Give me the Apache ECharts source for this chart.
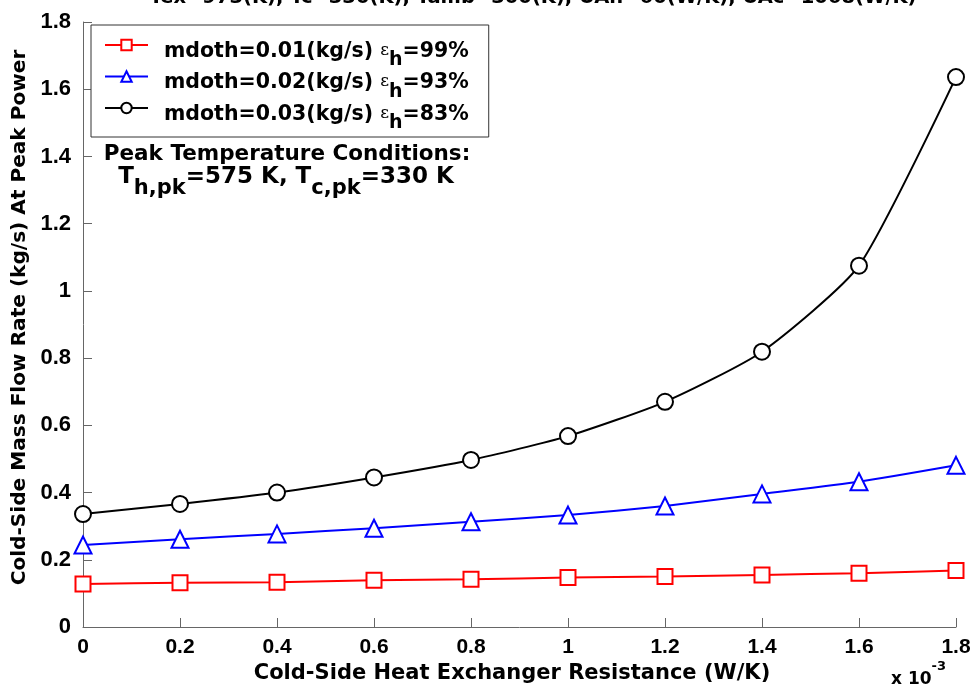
<!DOCTYPE html>
<html>
<head>
<meta charset="utf-8">
<script src="https://cdn.jsdelivr.net/npm/echarts@6/dist/echarts.min.js"></script>
<style>
  html, body { margin: 0; padding: 0; background: #fff; }
  #chart { width: 975px; height: 689px; }
</style>
</head>
<body>
<div id="chart"></div>
<script>
// Cold-side heat exchanger resistance (units of 1e-3 W/K)
const resistance = [0, 0.2, 0.4, 0.6, 0.8, 1.0, 1.2, 1.4, 1.6, 1.8];

// Cold-side mass flow rate at peak power (kg/s) for each hot-side flow rate
const flow001 = [0.128, 0.132, 0.133, 0.139, 0.142, 0.147, 0.150, 0.155, 0.160, 0.168];
const flow002 = [0.244, 0.261, 0.277, 0.294, 0.313, 0.333, 0.360, 0.396, 0.432, 0.481];
const flow003 = [0.336, 0.366, 0.400, 0.445, 0.497, 0.568, 0.670, 0.819, 1.075, 1.636];

const seriesNames = ['mdoth=0.01(kg/s)', 'mdoth=0.02(kg/s)', 'mdoth=0.03(kg/s)'];
const effectiveness = ['99%', '93%', '83%'];

const WIDE = '"DejaVu Sans", "Liberation Sans", Arial, sans-serif';
const TICK = '"Liberation Sans", Arial, Helvetica, sans-serif';

function pairs(xs, ys) { return xs.map((x, i) => [x, ys[i]]); }

const chart = echarts.init(document.getElementById('chart'), null, { renderer: 'canvas' });

function lineSeries(name, data, color, symbol, size) {
  return {
    name: name,
    type: 'line',
    data: data,
    smooth: 0.2,
    symbol: symbol,
    symbolSize: size,
    showAllSymbol: true,
    lineStyle: { color: color, width: 2 },
    itemStyle: { color: '#fff', borderColor: color, borderWidth: 2 },
    emphasis: { disabled: true },
    z: 3
  };
}

const tickLabel = v => String(+v.toFixed(1));

const option = {
  backgroundColor: '#fff',
  animation: false,
  grid: { left: 83, right: 19, top: 22, bottom: 61, containLabel: false },
  xAxis: {
    type: 'value',
    min: 0, max: 1.8, interval: 0.2,
    name: 'Cold-Side Heat Exchanger Resistance (W/K)',
    nameLocation: 'middle',
    nameGap: 36,
    nameTextStyle: { fontFamily: WIDE, fontWeight: 'bold', fontSize: 21, color: '#000', padding: [0, 15, 0, 0] },
    axisLine: { show: true, lineStyle: { color: '#666', width: 1 } },
    axisTick: { show: true, inside: true, length: 9, lineStyle: { color: '#666' } },
    splitLine: { show: false },
    axisLabel: {
      margin: 10,
      fontFamily: TICK, fontWeight: 'bold', fontSize: 21, color: '#000',
      formatter: tickLabel
    }
  },
  yAxis: {
    type: 'value',
    min: 0, max: 1.8, interval: 0.2,
    name: 'Cold-Side Mass Flow Rate (kg/s) At Peak Power',
    nameLocation: 'middle',
    nameRotate: 90,
    nameGap: 50,
    nameTextStyle: { fontFamily: WIDE, fontWeight: 'bold', fontSize: 20.1, color: '#000', padding: [0, 0, 0, 14] },
    axisLine: { show: true, lineStyle: { color: '#666', width: 1 } },
    axisTick: { show: true, inside: true, length: 9, lineStyle: { color: '#666' } },
    splitLine: { show: false },
    axisLabel: {
      margin: 12,
      fontFamily: TICK, fontWeight: 'bold', fontSize: 22, color: '#000',
      formatter: tickLabel
    }
  },
  legend: {
    orient: 'vertical',
    left: 91, top: 25,
    padding: [12, 20, 4, 13],
    itemGap: -1.5,
    itemWidth: 43,
    itemHeight: 13,
    borderColor: '#333',
    borderWidth: 1,
    backgroundColor: '#fff',
    data: seriesNames,
    formatter: name => {
      const k = seriesNames.indexOf(name);
      return '{a0|' + name + ' }{e|ε}{s|h}{a|=' + effectiveness[k] + '}';
    },
    textStyle: {
      rich: {
        a0: { fontFamily: WIDE, fontWeight: 'bold', fontSize: 20.5, color: '#000', lineHeight: 16, padding: [4, 0, 0, 11], verticalAlign: 'top' },
        a: { fontFamily: WIDE, fontWeight: 'bold', fontSize: 20.5, color: '#000', lineHeight: 16, padding: [4, 0, 0, 0], verticalAlign: 'top' },
        e: { fontFamily: '"DejaVu Serif", serif', fontSize: 17, color: '#000', lineHeight: 16, padding: [5, 0, 0, 0], verticalAlign: 'top' },
        s: { fontFamily: WIDE, fontWeight: 'bold', fontSize: 19, color: '#000', lineHeight: 16, padding: [14, 0, 0, 0], verticalAlign: 'top' }
      }
    }
  },
  graphic: [
    {
      type: 'text', x: 533, y: 8,
      style: {
        text: 'Tex=973(K), Tc=330(K), Tamb=300(K), UAh=60(W/K), UAc=1068(W/K)',
        font: 'bold 19.5px ' + WIDE, fill: '#000',
        textAlign: 'center', textVerticalAlign: 'bottom'
      }
    },
    {
      type: 'text', x: 287, y: 154,
      style: {
        text: 'Peak Temperature Conditions:',
        font: 'bold 21.5px ' + WIDE, fill: '#000',
        textAlign: 'center', textVerticalAlign: 'middle'
      }
    },
    {
      type: 'text', x: 286, y: 166,
      style: {
        text: '{t|T}{s|h,pk}{t|=575 K, T}{s|c,pk}{t|=330 K}',
        textAlign: 'center', textVerticalAlign: 'top',
        rich: {
          t: { font: 'bold 23px ' + WIDE, fill: '#000', lineHeight: 20, verticalAlign: 'top' },
          s: { font: 'bold 21px ' + WIDE, fill: '#000', lineHeight: 20, padding: [12, 0, 0, 0], verticalAlign: 'top' }
        }
      }
    },
    {
      type: 'text', x: 891, y: 660,
      style: {
        text: '{t|x 10}{s|-3}',
        textAlign: 'left', textVerticalAlign: 'top',
        rich: {
          t: { font: 'bold 17px ' + WIDE, fill: '#000', lineHeight: 18, padding: [11, 0, 0, 0], verticalAlign: 'top' },
          s: { font: 'bold 13px ' + WIDE, fill: '#000', lineHeight: 14, verticalAlign: 'top' }
        }
      }
    }
  ],
  series: [
    lineSeries(seriesNames[0], pairs(resistance, flow001), '#ff0000', 'rect', 15),
    lineSeries(seriesNames[1], pairs(resistance, flow002), '#0000ff', 'triangle', 17),
    lineSeries(seriesNames[2], pairs(resistance, flow003), '#000000', 'circle', 16)
  ]
};

chart.setOption(option);
</script>
</body>
</html>
